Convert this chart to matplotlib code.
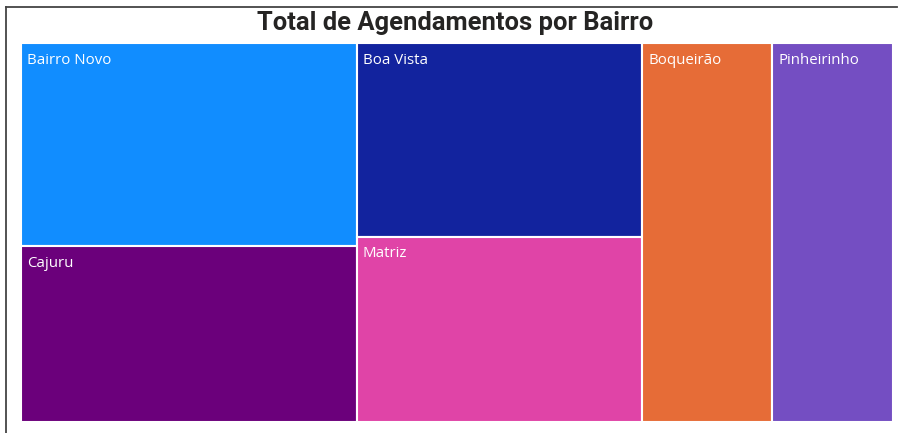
import matplotlib.pyplot as plt
from matplotlib.patches import Rectangle
from matplotlib.lines import Line2D

# agendamentos por bairro
bairros = ['Bairro Novo', 'Cajuru', 'Boa Vista', 'Matriz', 'Boqueirão', 'Pinheirinho']
agendamentos = [206, 179, 167, 160, 149, 139]
cores = ['#118DFF', '#6B007B', '#12239E', '#E044A7', '#E66C37', '#744EC2']
# how the tiles are grouped into columns (left to right)
colunas = [['Bairro Novo', 'Cajuru'], ['Boa Vista', 'Matriz'], ['Boqueirão'], ['Pinheirinho']]

titulo = 'Total de Agendamentos por Bairro'

val = dict(zip(bairros, agendamentos))
clr = dict(zip(bairros, cores))
total = float(sum(agendamentos))

fig = plt.figure(figsize=(9, 4.33), dpi=100)
ax = fig.add_axes([21/900, 11/433, 872/900, 379/433])
ax.set_xlim(0, 1)
ax.set_ylim(0, 1)
ax.axis('off')

x0 = 0.
for col in colunas:
    scol = sum(val[b] for b in col)
    w = scol/total
    ytop = 1.
    for b in col:
        h = val[b]/scol
        ax.add_patch(Rectangle((x0, ytop-h), w, h, facecolor=clr[b],
                               edgecolor='white', linewidth=1.5))
        ax.annotate(b, xy=(x0, ytop), xytext=(4.5, -12.5), textcoords='offset points',
                    ha='left', va='center', color='white', fontsize=10.8,
                    family=['Open Sans', 'DejaVu Sans'])
        ytop -= h
    x0 += w

fig.text(455/900, 1-30/433, titulo, ha='center', va='baseline', fontsize=18.4,
         fontweight='bold', family=['Roboto', 'DejaVu Sans'], color='#252423')

# frame lines of the visual
fig.add_artist(Line2D([6/900, 6/900], [0, 1-7/433], color='#444444', lw=1.3))
fig.add_artist(Line2D([6/900, 897/900], [1-7/433, 1-7/433], color='#444444', lw=1.3))

fig.savefig('out.png', dpi=100)
plt.close()
